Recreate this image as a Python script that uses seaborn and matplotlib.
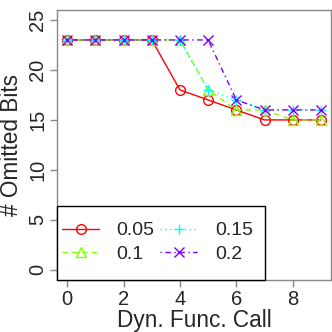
import matplotlib
matplotlib.use("Agg")
import matplotlib.pyplot as plt
from matplotlib.patches import Rectangle
import seaborn as sns
import numpy as np

sns.set_style("ticks")
plt.rcParams['font.family'] = ['Liberation Sans', 'DejaVu Sans']

x = [0, 1, 2, 3, 4, 5, 6, 7, 8, 9]
labels = ["0.05", "0.1", "0.15", "0.2"]
s005 = [23, 23, 23, 23, 18, 17, 16, 15, 15, 15]
s010 = [23, 23, 23, 23, 23, 18, 16, 16, 15, 15]
s015 = [23, 23, 23, 23, 23, 18, 17, 16, 16, 16]
s020 = [23, 23, 23, 23, 23, 23, 17, 16, 16, 16]
series = [s005, s010, s015, s020]
colors = ["#FF0000", "#80FF00", "#00FFFF", "#8000FF"]
markers = ["o", "^", "+", "x"]
styles = ["-", (0, (4, 3)), (0, (1, 2.5)), (0, (1, 2.5, 4, 2.5))]

fig = plt.figure(figsize=(3.32, 3.32), dpi=100)
ax = fig.add_axes([0.172, 0.157, 0.825, 0.813])

for ys, lab, c, m, ls in zip(series, labels, colors, markers, styles):
    sns.lineplot(x=x, y=ys, ax=ax, color=c, linestyle=ls, marker=m,
                 markersize=7, markerfacecolor='none', markeredgecolor=c,
                 markeredgewidth=1, linewidth=1, label=lab, legend=False)
handles = ax.get_lines()

ax.set_xlim(-0.36, 9.36)
ax.set_ylim(-1, 26)
ax.set_xticks([0, 2, 4, 6, 8])
ax.set_yticks([0, 5, 10, 15, 20, 25])
ax.set_yticklabels(["0", "5", "10", "15", "20", "25"], rotation=90, va='center')
ax.tick_params(labelsize=14.5, color='#888888', length=5, width=1, pad=2)
for sp in ax.spines.values():
    sp.set_color('#888888')
    sp.set_linewidth(1)
ax.set_xlabel("Dyn. Func. Call", fontsize=16.3, labelpad=0)
ax.set_ylabel("# Omitted Bits", fontsize=16.3, labelpad=4)

# legend box frame
box = Rectangle((0, 0), 0.759, 0.274, transform=ax.transAxes, fill=True,
                facecolor='white', edgecolor='black', linewidth=1, zorder=5,
                clip_on=False)
ax.add_patch(box)
leg = ax.legend(handles=handles, labels=labels, loc='center left', ncol=2,
                bbox_to_anchor=(0.018, 0.139),
                fontsize=14, frameon=False, borderaxespad=0,
                handlelength=1.9, columnspacing=0.3, handletextpad=0.9,
                labelspacing=0.3, borderpad=0)
leg.set_zorder(6)

fig.savefig("out.png", dpi=100)
